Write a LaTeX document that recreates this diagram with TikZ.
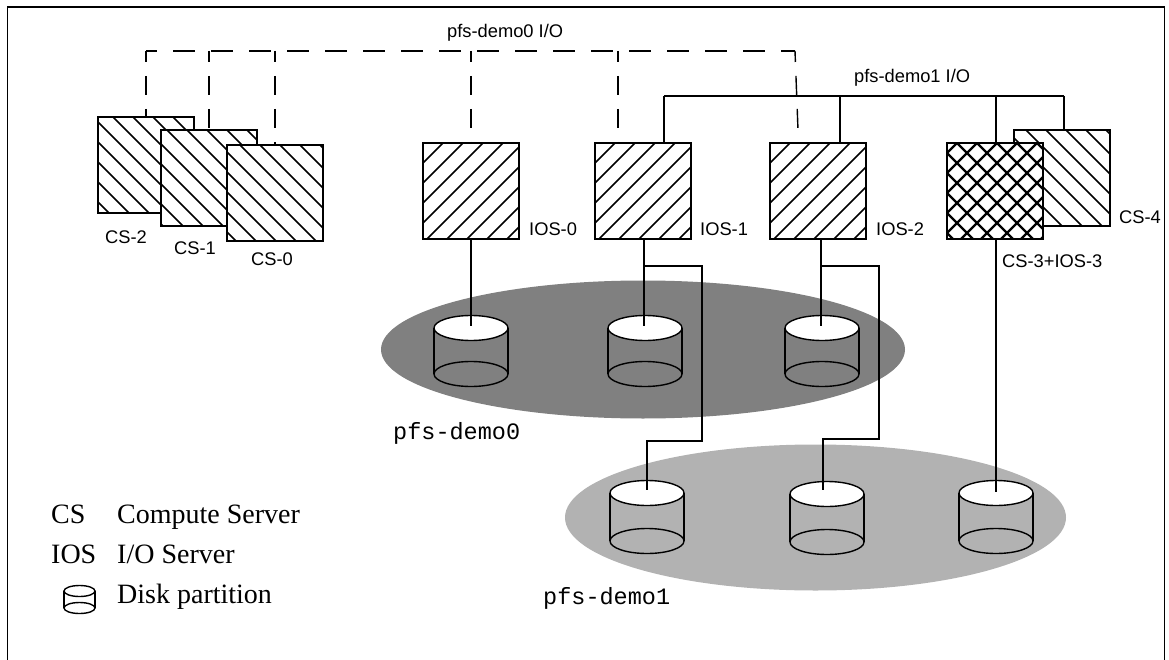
\documentclass[tikz,border=0pt]{standalone}
\usepackage{fontspec}
\setmainfont{Liberation Serif}
\setsansfont{Liberation Sans}
\setmonofont{Liberation Mono}
\tikzset{
  wire/.style={line width=1.4pt},
  hatchline/.style={line width=1.6pt},
  busdashh/.style={wire, dash pattern=on 22pt off 16pt, dash phase=11pt},
  busdashv/.style={wire, dash pattern=on 19pt off 14pt, dash phase=8pt},
  boxbase/.style={draw, line width=1.6pt, fill=white, minimum size=96pt, inner sep=0pt, outer sep=0pt},
  csbox/.style={boxbase, path picture={
    \foreach \k in {-100,-80,...,100}
      \draw[hatchline] (path picture bounding box.north west) ++(\k+#1,0) -- ++(130,130);}},
  iosbox/.style={boxbase, path picture={
    \foreach \k in {0,20,...,200}
      \draw[hatchline] (path picture bounding box.north west) ++(\k+#1,0) -- ++(-130,130);}},
  bothbox/.style={boxbase, path picture={
    \foreach \k in {-100,-80,...,100}
      \draw[line width=2.2pt] (path picture bounding box.north west) ++(\k+10,0) -- ++(130,130);
    \foreach \k in {0,20,...,200}
      \draw[line width=2.2pt] (path picture bounding box.north west) ++(\k+10,0) -- ++(-130,130);}},
  sanslabel/.style={font=\sffamily\fontsize{18.3}{21}\selectfont, inner sep=0pt, anchor=west},
  ttlabel/.style={font=\ttfamily\fontsize{23.5}{26}\selectfont, inner sep=0pt, anchor=west},
  legend/.style={font=\fontsize{28}{32}\selectfont, inner sep=0pt, anchor=base west},
}
% disk: top and bottom ellipses with the sides
\newcommand{\disk}[5]{%
  \draw[line width=1.4pt] (#1-#3,#2) -- (#1-#3,#2+#5) (#1+#3,#2) -- (#1+#3,#2+#5);
  \draw[line width=1.4pt] (#1,#2+#5) ellipse ({#3} and {#4});
  \draw[line width=1.4pt, fill=white] (#1,#2) ellipse ({#3} and {#4});
}
\begin{document}
\begin{tikzpicture}[x=1pt, y=-1pt]
  \useasboundingbox (0,0) rectangle (1169,660);
  \draw[line width=1.8pt] (7.5,660) -- (7.5,6.7) -- (1164.5,6.7) -- (1164.5,660); % frame

  \fill[black!50] (643,349.5) ellipse (262 and 69); % pfs-demo0
  \fill[black!30] (815.5,517.5) ellipse (250.5 and 73); % pfs-demo1

  \disk{471}{328}{37}{12.5}{46}
  \disk{645}{328}{37}{12.5}{46}
  \disk{822}{328}{37}{12.5}{46}
  \disk{647}{493}{37}{12.5}{48}
  \disk{827}{494}{37}{12.5}{48}
  \disk{996}{493}{37}{12.5}{48}

  \coordinate (d00) at (471,326);
  \coordinate (d01) at (644,326);
  \coordinate (d02) at (821,326);
  \coordinate (d10) at (647,490);
  \coordinate (d11) at (823,490);
  \coordinate (d12) at (996,492);

  \node[csbox=15] (cs2) at (146,165) {};
  \node[csbox=6] (cs1) at (209,178) {};
  \node[csbox=13] (cs0) at (275,193) {};
  \node[iosbox=0] (ios0) at (471,191) {};
  \node[iosbox=0] (ios1) at (643,191) {};
  \node[iosbox=0] (ios2) at (818,191) {};
  \node[csbox=12] (cs4) at (1062,178) {};
  \node[bothbox] (cs3) at (995,191) {};

  \coordinate (dashl) at (146,51);
  \coordinate (dashr) at (795,51);
  \coordinate (solidl) at (664,96);
  \coordinate (solidr) at (1064,96);

  \draw[busdashh] (dashl) -- (dashr); % pfs-demo0 I/O
  \foreach \n in {cs2,cs1,cs0,ios0}
    \draw[busdashv] (\n.north |- dashl) -- (\n.north);
  \draw[busdashv] (618,51) -- (618,143);
  \draw[busdashv] (dashr) -- (798,130);

  \draw[wire] (solidl) -- (solidr); % pfs-demo1 I/O
  \draw[wire] (solidl) -- (solidl |- ios1.north);
  \draw[wire] (840,96) -- (840,143);
  \draw[wire] (996,96) -- (996,143);
  \draw[wire] (solidr) -- (solidr |- cs4.north);

  \draw[wire] (ios0.south) -- (d00);
  \draw[wire] (d01 |- ios1.south) -- (d01);
  \draw[wire] (d02 |- ios2.south) -- (d02);
  \draw[wire] (644,266) -- (702,266) -- (702,441) -- (647,441) -- (d10);
  \draw[wire] (821,266) -- (879,266) -- (879,439) -- (823,439) -- (d11);
  \draw[wire] (d12 |- cs3.south) -- (d12);

  \node[sanslabel] (lbdemo0) at (447,33) {pfs-demo0 I/O};
  \node[sanslabel] (lbdemo1) at (854,78) {pfs-demo1 I/O};
  \node[sanslabel] (lbcs2) at (105,237) {CS-2};
  \node[sanslabel] (lbcs1) at (174,248) {CS-1};
  \node[sanslabel] (lbcs0) at (251,259) {CS-0};
  \node[sanslabel] (lbios0) at (529,229) {IOS-0};
  \node[sanslabel] (lbios1) at (700,229) {IOS-1};
  \node[sanslabel] (lbios2) at (876,229) {IOS-2};
  \node[sanslabel] (lbcs4) at (1119,217) {CS-4};
  \node[sanslabel] (lbcs3) at (1002,261) {CS-3+IOS-3};

  \node[ttlabel] (lbpfs0) at (393,433) {pfs-demo0};
  \node[ttlabel] (lbpfs1) at (543,598) {pfs-demo1};

  \node[legend] (keycs) at (51,523) {CS};
  \node[legend] (keyios) at (51,563) {IOS};
  \node[legend] (keycstxt) at (117,523) {Compute Server};
  \node[legend] (keyiostxt) at (117,563) {I/O Server};
  \node[legend] (keydisktxt) at (117,603) {Disk partition};
  \disk{79.5}{591}{15.5}{5.5}{17}
\end{tikzpicture}
\end{document}
